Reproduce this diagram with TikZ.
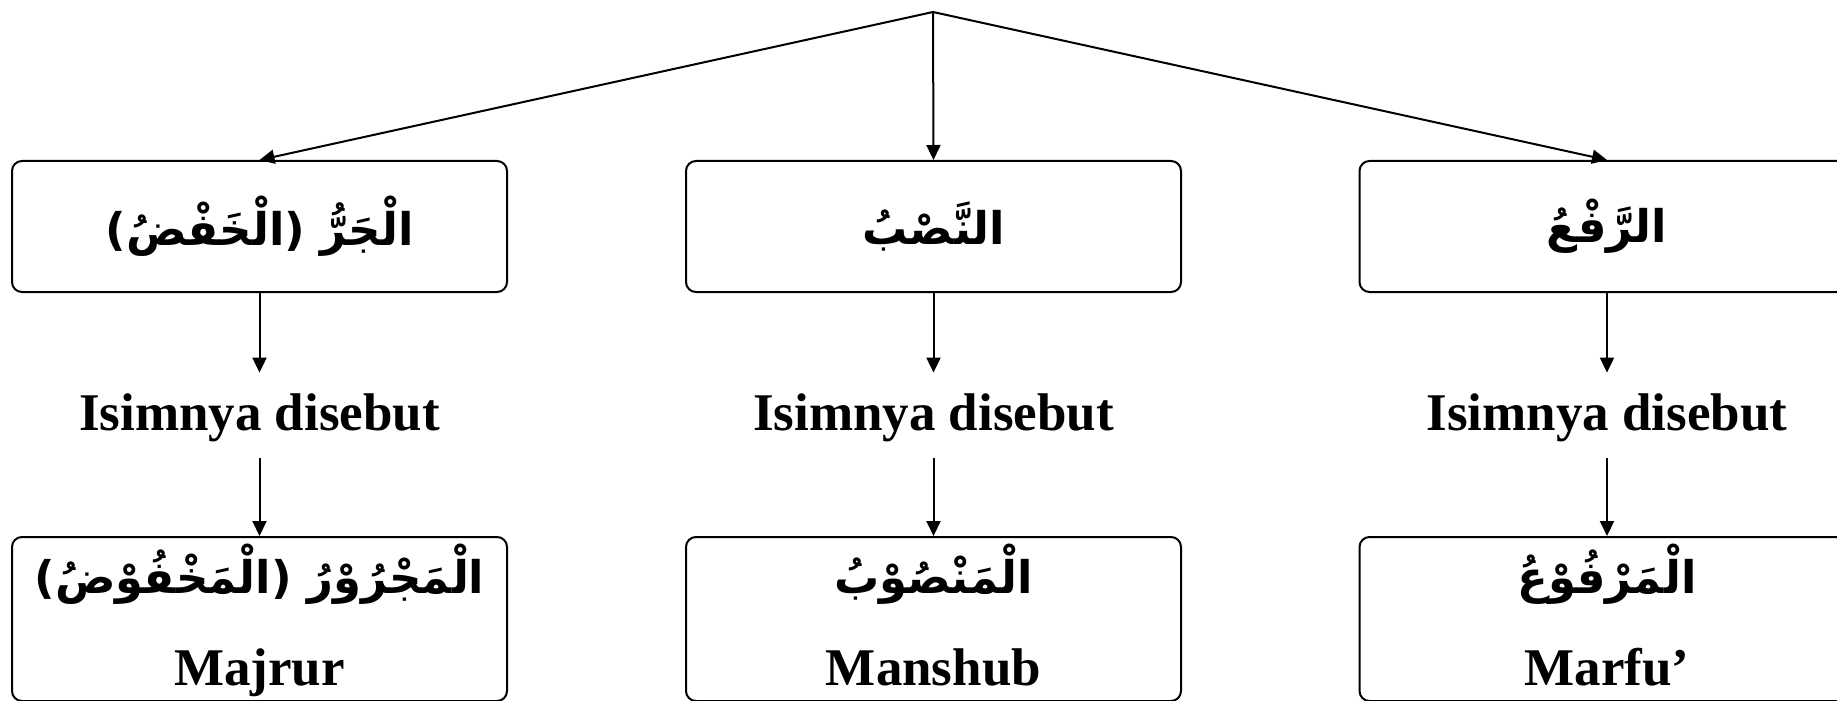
\documentclass[tikz,border=0pt]{standalone}
\usepackage{fontspec}
\setmainfont{Liberation Serif}
\newfontfamily\arfont[Script=Arabic]{DejaVu Sans}
\usetikzlibrary{arrows.meta}
\TeXXeTstate=1
\begin{document}
\begin{tikzpicture}[x=0.5pt,y=-0.5pt,
  box/.style={draw,line width=1pt,rounded corners=5pt,minimum width=247.5pt,minimum height=65.5pt,inner sep=0pt},
  lbox/.style={draw,line width=1pt,rounded corners=5pt,minimum width=247.5pt,minimum height=82pt,inner sep=0pt},
  arr/.style={-{Triangle[length=7.5pt,width=7pt]},line width=1pt},
  ar/.style={font=\arfont\bfseries\fontsize{22.5}{26}\selectfont,inner sep=0pt},
  lat/.style={font=\bfseries\fontsize{26.5}{30}\selectfont,inner sep=0pt},
  mid/.style={lat,text height=28.5pt,text depth=14pt,anchor=base}]
\useasboundingbox (0,0) rectangle (1837,701);
\clip (0,0) rectangle (1837,701);
\coordinate (apex) at (933,12);
% top boxes
\node[box,ar] (t1) at (259.5,226.5) {\beginR الْجَرُّ (الْخَفْضُ)\endR};
\node[box,ar] (t2) at (933.5,226.5) {\beginR النَّصْبُ\endR};
\node[box,ar] (t3) at (1607,226.5) {\beginR الرَّفْعُ\endR};
% middle labels
\node[mid] (m1) at (259.5,430) {Isimnya disebut};
\node[mid] (m2) at (933.5,430) {Isimnya disebut};
\node[mid] (m3) at (1607,430) {Isimnya disebut};
% bottom boxes
\node[lbox] (b1) at (259.5,619) {};
\node[lbox] (b2) at (933.5,619) {};
\node[lbox] (b3) at (1607,619) {};
\node[ar] (b1a) at (259.5,574) {\beginR الْمَجْرُوْرُ (الْمَخْفُوْضُ)\endR};
\node[ar] (b2a) at (933.5,574) {\beginR الْمَنْصُوْبُ\endR};
\node[ar] (b3a) at (1607,574) {\beginR الْمَرْفُوْعُ\endR};
\node[lat,anchor=base] (b1b) at (259.5,685) {Majrur};
\node[lat,anchor=base] (b2b) at (933.5,685) {Manshub};
\node[lat,anchor=base] (b3b) at (1607,685) {Marfu’};
% connectors
\draw[arr] (apex) -- (t1.north);
\draw[arr] (apex) -- (t2.north);
\draw[arr] (apex) -- (t3.north);
\foreach \i in {1,2,3}{
  \draw[arr] (t\i.south) -- (m\i.north);
  \draw[arr] (m\i.south) -- (b\i.north);
}
\end{tikzpicture}
\end{document}
